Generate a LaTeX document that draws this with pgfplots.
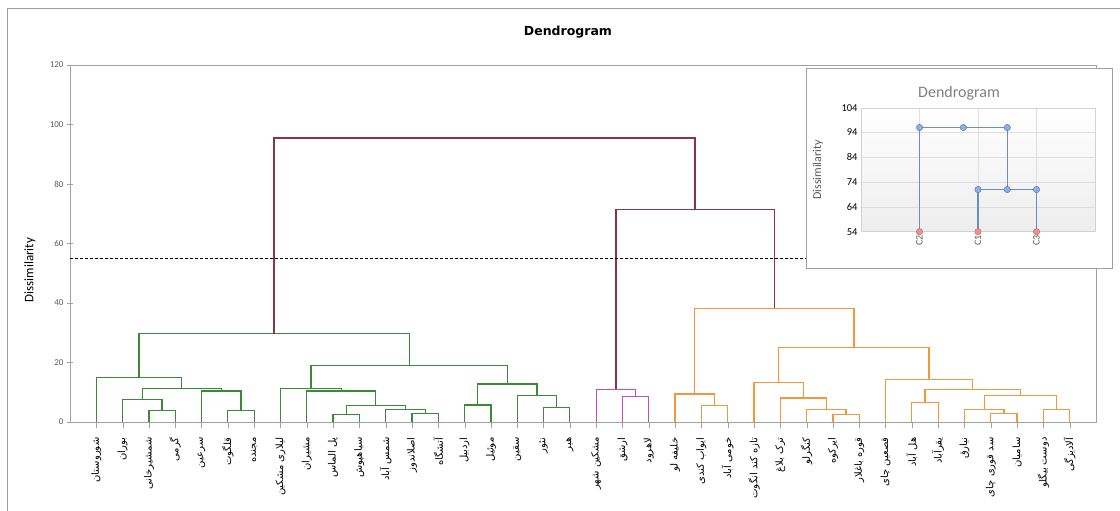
\documentclass[border=0pt]{standalone}
\usepackage{fontspec}
\usepackage{pgfplots}
\pgfplotsset{compat=1.18}
\setmainfont{Carlito}
\newfontfamily\arabicfont[Script=Arabic]{DejaVu Sans}
\newfontfamily\titlefont{DejaVu Sans}
\TeXXeTstate=1

\definecolor{cgreen}{RGB}{58,138,58}
\definecolor{corange}{RGB}{244,150,62}
\definecolor{cpink}{RGB}{190,80,190}
\definecolor{cmaroon}{RGB}{140,52,70}
\definecolor{axgray}{RGB}{160,160,160}
\definecolor{txgray}{RGB}{90,90,90}
\definecolor{inline}{RGB}{110,140,190}
\definecolor{inblue}{RGB}{140,175,225}
\definecolor{inblued}{RGB}{80,110,170}
\definecolor{inred}{RGB}{235,145,145}
\definecolor{inredd}{RGB}{200,95,95}

\begin{document}
\begin{tikzpicture}
\useasboundingbox (0,0) rectangle (1120pt,511pt);
% outer frame
\draw[axgray, line width=0.8pt] (7pt,-5pt) -- (7pt,503pt) -- (1130pt,503pt);
\node[font=\titlefont\bfseries\fontsize{12.5}{14}\selectfont] at (568pt,479pt) {Dendrogram};
\node[rotate=90, font=\fontsize{13}{15}\selectfont] at (30pt,241pt) {Dissimilarity};

\begin{axis}[
  at={(70pt,89pt)}, anchor=south west,
  scale only axis, width=1026pt, height=357pt,
  xmin=0, xmax=39, ymin=0, ymax=120,
  ytick={0,20,...,120},
  xtick={1,...,38},
  xticklabels={
    {\beginR شوروستان\endR},{\beginR بوران\endR},{\beginR شمشیرخانی\endR},{\beginR گرمی\endR},{\beginR سرعین\endR},
    {\beginR قلگوت\endR},{\beginR مجنده\endR},{\beginR لیلاری مشکین\endR},{\beginR مشیران\endR},{\beginR پل الماس\endR},
    {\beginR سیاهپوش\endR},{\beginR شمس آباد\endR},{\beginR اصلاندوز\endR},{\beginR آتشگاه\endR},{\beginR اردبیل\endR},
    {\beginR موئیل\endR},{\beginR سقین\endR},{\beginR نئور\endR},{\beginR هیر\endR},{\beginR مشکین شهر\endR},
    {\beginR ارشق\endR},{\beginR لاهرود\endR},{\beginR خلیفه لو\endR},{\beginR ایواب کندی\endR},{\beginR خومی آباد\endR},
    {\beginR تازه کند انگوت\endR},{\beginR ترک بلاغ\endR},{\beginR کنگرلو\endR},{\beginR ایرکوه\endR},{\beginR قوره باغلار\endR},
    {\beginR قصعین چای\endR},{\beginR هل آباد\endR},{\beginR یقرآباد\endR},{\beginR نیارق\endR},{\beginR سد قوری چای\endR},
    {\beginR سامیان\endR},{\beginR دوست بیگلو\endR},{\beginR آلادیزگی\endR}},
  xticklabel style={rotate=90, anchor=east, xshift=-6pt, font=\arabicfont\fontsize{10}{12}\selectfont, text=black},
  yticklabel style={font=\fontsize{9}{10}\selectfont, text=txgray},
  /pgf/number format/assume math mode=true,
  axis line style={axgray},
  tick style={axgray},
  major tick length=6pt,
  xtick align=outside,
  ytick align=center,
  xtick pos=bottom, ytick pos=left,
  every axis plot/.append style={line width=1.25pt},
]
% green cluster
\addplot[cgreen] coordinates {(3,0) (3,3.8) (4,3.8) (4,0)};
\addplot[cgreen] coordinates {(2,0) (2,7.6) (3.5,7.6) (3.5,3.8)};
\addplot[cgreen] coordinates {(6,0) (6,3.8) (7,3.8) (7,0)};
\addplot[cgreen] coordinates {(5,0) (5,10.4) (6.5,10.4) (6.5,3.8)};
\addplot[cgreen] coordinates {(2.75,7.6) (2.75,11.3) (5.75,11.3) (5.75,10.4)};
\addplot[cgreen] coordinates {(1,0) (1,15.0) (4.25,15.0) (4.25,11.3)};
\addplot[cgreen] coordinates {(10,0) (10,2.4) (11,2.4) (11,0)};
\addplot[cgreen] coordinates {(13,0) (13,2.9) (14,2.9) (14,0)};
\addplot[cgreen] coordinates {(12,0) (12,4.3) (13.5,4.3) (13.5,2.9)};
\addplot[cgreen] coordinates {(10.5,2.4) (10.5,5.6) (12.75,5.6) (12.75,4.3)};
\addplot[cgreen] coordinates {(9,0) (9,10.4) (11.625,10.4) (11.625,5.6)};
\addplot[cgreen] coordinates {(8,0) (8,11.3) (10.3125,11.3) (10.3125,10.4)};
\addplot[cgreen] coordinates {(15,0) (15,5.7) (16,5.7) (16,0)};
\addplot[cgreen] coordinates {(18,0) (18,4.8) (19,4.8) (19,0)};
\addplot[cgreen] coordinates {(17,0) (17,9.0) (18.5,9.0) (18.5,4.8)};
\addplot[cgreen] coordinates {(15.5,5.7) (15.5,12.8) (17.75,12.8) (17.75,9.0)};
\addplot[cgreen] coordinates {(9.15625,11.3) (9.15625,18.9) (16.625,18.9) (16.625,12.8)};
\addplot[cgreen] coordinates {(2.625,15.0) (2.625,29.7) (12.890625,29.7) (12.890625,18.9)};
% pink cluster
\addplot[cpink] coordinates {(21,0) (21,8.5) (22,8.5) (22,0)};
\addplot[cpink] coordinates {(20,0) (20,11.0) (21.5,11.0) (21.5,8.5)};
% orange cluster
\addplot[corange] coordinates {(24,0) (24,5.6) (25,5.6) (25,0)};
\addplot[corange] coordinates {(23,0) (23,9.4) (24.5,9.4) (24.5,5.6)};
\addplot[corange] coordinates {(29,0) (29,2.4) (30,2.4) (30,0)};
\addplot[corange] coordinates {(28,0) (28,4.3) (29.5,4.3) (29.5,2.4)};
\addplot[corange] coordinates {(27,0) (27,8.1) (28.75,8.1) (28.75,4.3)};
\addplot[corange] coordinates {(26,0) (26,13.2) (27.875,13.2) (27.875,8.1)};
\addplot[corange] coordinates {(32,0) (32,6.6) (33,6.6) (33,0)};
\addplot[corange] coordinates {(35,0) (35,2.9) (36,2.9) (36,0)};
\addplot[corange] coordinates {(34,0) (34,4.3) (35.5,4.3) (35.5,2.9)};
\addplot[corange] coordinates {(37,0) (37,4.3) (38,4.3) (38,0)};
\addplot[corange] coordinates {(34.75,4.3) (34.75,9.0) (37.5,9.0) (37.5,4.3)};
\addplot[corange] coordinates {(32.5,6.6) (32.5,11.0) (36.125,11.0) (36.125,9.0)};
\addplot[corange] coordinates {(31,0) (31,14.4) (34.3125,14.4) (34.3125,11.0)};
\addplot[corange] coordinates {(26.9375,13.2) (26.9375,25.0) (32.65625,25.0) (32.65625,14.4)};
\addplot[corange] coordinates {(23.75,9.4) (23.75,38.2) (29.796875,38.2) (29.796875,25.0)};
% top links
\addplot[cmaroon] coordinates {(20.75,11.0) (20.75,71.4) (26.7734,71.4) (26.7734,38.2)};
\addplot[cmaroon] coordinates {(7.7578,29.7) (7.7578,95.5) (23.7617,95.5) (23.7617,71.4)};
% truncation level
\addplot[black, line width=0.9pt, dash pattern=on 3pt off 2pt] coordinates {(0,55) (39,55)};
\end{axis}

% inset
\draw[axgray, fill=white] (806pt,243pt) rectangle (1112pt,443pt);
\node[font=\fontsize{16}{18}\selectfont, text=gray] at (959pt,418pt) {Dendrogram};
\node[rotate=90, font=\fontsize{12}{14}\selectfont, text=txgray] at (818pt,341pt) {Dissimilarity};
\begin{axis}[
  at={(861pt,279.3pt)}, anchor=south west,
  scale only axis, width=234pt, height=124pt,
  xmin=0, xmax=4, ymin=54, ymax=104,
  ytick={54,64,...,104},
  xtick={1,2,3}, xticklabels={C2,C1,C3},
  xticklabel style={rotate=90, anchor=east, font=\fontsize{10}{12}\selectfont, text=txgray},
  yticklabel style={font=\fontsize{10.5}{12}\selectfont, text=black},
  /pgf/number format/assume math mode=true,
  grid=major, grid style={gray!25},
  axis line style={gray!35},
  major tick length=0pt,
  clip=false,
  axis background/.style={shade, top color=white, bottom color=gray!14},
]
\addplot[inline, line width=1.2pt] coordinates {(1,54) (1,96) (2.5,96) (2.5,71)};
\addplot[inline, line width=1.2pt] coordinates {(2,54) (2,71) (3,71) (3,54)};
\addplot[only marks, mark=*, mark size=3.2pt, mark options={fill=inblue, draw=inblued}] coordinates {(1,96) (1.75,96) (2.5,96) (2,71) (2.5,71) (3,71)};
\addplot[only marks, mark=*, mark size=3.2pt, mark options={fill=inred, draw=inredd}] coordinates {(1,54) (2,54) (3,54)};
\end{axis}
\end{tikzpicture}
\end{document}
